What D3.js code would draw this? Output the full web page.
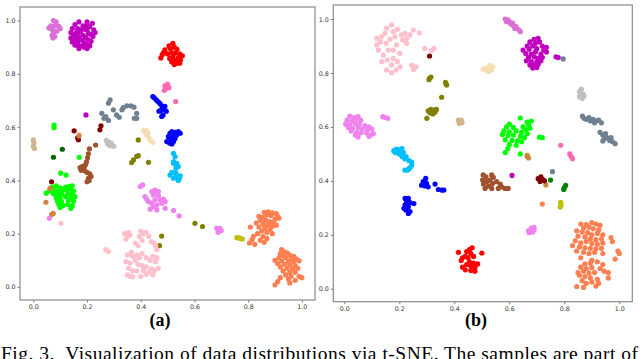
<!DOCTYPE html>
<html><head><meta charset="utf-8">
<script src="https://cdn.jsdelivr.net/npm/d3@7"></script>
<style>html,body{margin:0;padding:0;background:#fff;overflow:hidden}</style>
</head><body>
<svg id="c" width="640" height="359"></svg>
<script>
// ---------- tick labels ----------
const tickValues = [0.0, 0.2, 0.4, 0.6, 0.8, 1.0];
const panelLabels = ["(a)", "(b)"];
const captionText = "Fig. 3.  Visualization of data distributions via t-SNE. The samples are part of";

// ---------- panel (a) clusters ----------
const aOrchid = [[0.075,1.0],[0.085,0.995],[0.065,0.98],[0.08,0.98],[0.095,0.978],[0.058,0.972],[0.1,0.97],[0.072,0.965],[0.088,0.96],[0.075,0.952],[0.07,0.945],[0.08,0.94],[0.073,0.935]];
const aMagenta = [[0.17,0.995],[0.2,0.995],[0.22,0.99],[0.155,0.985],[0.185,0.98],[0.21,0.978],[0.145,0.97],[0.165,0.97],[0.19,0.968],[0.2,0.965],[0.225,0.965],[0.14,0.955],[0.16,0.955],[0.175,0.958],[0.205,0.952],[0.215,0.948],[0.15,0.945],[0.168,0.94],[0.185,0.945],[0.195,0.938],[0.222,0.94],[0.14,0.935],[0.158,0.93],[0.178,0.928],[0.205,0.928],[0.215,0.922],[0.145,0.92],[0.165,0.918],[0.19,0.915],[0.2,0.91],[0.155,0.908],[0.175,0.905],[0.21,0.905],[0.17,0.895],[0.19,0.9],[0.2,0.895],[0.16,0.925],[0.185,0.925],[0.198,0.978],[0.178,0.965],[0.162,0.908],[0.23,0.955],[0.196,0.646]];
const aRed = [[0.475,0.86],[0.48,0.872],[0.485,0.88],[0.49,0.89],[0.505,0.905],[0.52,0.915],[0.51,0.895],[0.525,0.9],[0.535,0.892],[0.5,0.875],[0.515,0.88],[0.53,0.878],[0.545,0.875],[0.555,0.868],[0.52,0.865],[0.54,0.86],[0.508,0.858],[0.53,0.85],[0.548,0.852],[0.515,0.845],[0.535,0.84],[0.525,0.835],[0.545,0.84],[0.52,0.855]];
const aHotpink = [[0.49,0.755],[0.5,0.762],[0.495,0.745],[0.505,0.748],[0.488,0.738],[0.53,0.696]];
const aBlue = [[0.445,0.715],[0.45,0.71],[0.458,0.702],[0.465,0.695],[0.472,0.688],[0.478,0.68],[0.49,0.678],[0.485,0.668],[0.475,0.662],[0.495,0.66],[0.468,0.66],[0.483,0.645],[0.478,0.64],
  [0.497,0.546],[0.503,0.564],[0.509,0.577],[0.516,0.583],[0.528,0.58],[0.54,0.583],[0.547,0.577],[0.534,0.57],[0.522,0.564],[0.512,0.554],[0.522,0.546],[0.507,0.54],[0.516,0.537],[0.528,0.557]];
const aSlate = [[0.286,0.702],[0.28,0.69],[0.255,0.652],[0.27,0.64],[0.28,0.625],[0.298,0.665],[0.31,0.646],[0.32,0.637],[0.335,0.673],[0.348,0.68],[0.363,0.68],[0.375,0.675],[0.385,0.652],[0.385,0.633],[0.376,0.633],[0.33,0.665],[0.263,0.633]];
const aLime = [[0.077,0.608],[0.077,0.598],[0.171,0.487],[0.102,0.427],[0.122,0.42],
  [0.07,0.375],[0.085,0.38],[0.1,0.372],[0.12,0.375],[0.135,0.378],[0.145,0.38],[0.14,0.368],[0.06,0.36],[0.08,0.362],[0.095,0.36],[0.11,0.365],[0.125,0.362],[0.15,0.36],[0.075,0.35],[0.09,0.345],[0.105,0.35],[0.13,0.35],[0.145,0.348],[0.085,0.335],[0.1,0.335],[0.12,0.34],[0.14,0.335],[0.155,0.338],[0.09,0.322],[0.105,0.32],[0.13,0.325],[0.15,0.322],[0.095,0.31],[0.11,0.305],[0.128,0.31],[0.145,0.305],[0.1,0.298],[0.14,0.295],[0.048,0.352]];
const aMaroon = [[0.152,0.586],[0.165,0.56],[0.168,0.553],[0.252,0.605],[0.248,0.59],[0.068,0.395]];
const aPink = [[0.171,0.573],[0.103,0.239],
  [0.27,0.14],[0.28,0.133],[0.34,0.2],[0.35,0.19],[0.355,0.205],[0.36,0.195],[0.345,0.18],[0.4,0.21],[0.41,0.2],[0.42,0.205],[0.395,0.19],[0.43,0.19],[0.405,0.175],[0.38,0.165],[0.39,0.155],[0.44,0.17],[0.45,0.165],[0.455,0.155],[0.46,0.14],[0.35,0.12],[0.365,0.13],[0.37,0.115],[0.385,0.12],[0.395,0.11],[0.405,0.125],[0.42,0.11],[0.435,0.1],[0.445,0.115],[0.46,0.11],[0.455,0.095],[0.345,0.095],[0.36,0.09],[0.38,0.1],[0.39,0.085],[0.405,0.08],[0.42,0.075],[0.44,0.068],[0.45,0.06],[0.43,0.055],[0.41,0.062],[0.355,0.07],[0.37,0.06],[0.385,0.06],[0.35,0.045],[0.36,0.04],[0.37,0.038],[0.4,0.04],[0.42,0.048],[0.445,0.045],[0.465,0.07]];
const aTan = [[0.0,0.552],[0.002,0.54],[0.0,0.528],[0.004,0.52]];
const aSilver = [[0.272,0.55],[0.28,0.545],[0.29,0.54],[0.3,0.528],[0.285,0.53],[0.276,0.538]];
const aWheat = [[0.41,0.587],[0.422,0.587],[0.428,0.577],[0.422,0.571],[0.432,0.558],[0.437,0.55],[0.445,0.542],[0.416,0.58]];
const aOlive = [[0.391,0.552],[0.366,0.467],[0.373,0.477],[0.385,0.49],[0.391,0.493],[0.429,0.468],[0.602,0.239],[0.63,0.227],[0.478,0.191],[0.47,0.155]];
const aSkyblue = [[0.522,0.502],[0.528,0.489],[0.522,0.471],[0.534,0.464],[0.54,0.452],[0.531,0.446],[0.522,0.464],[0.534,0.458],[0.516,0.43],[0.528,0.427],[0.509,0.42],[0.534,0.414],[0.544,0.408],[0.522,0.408],[0.54,0.4],[0.531,0.427],[0.547,0.417]];
const aDarkgreen = [[0.075,0.487],[0.108,0.517]];
const aSienna = [[0.232,0.533],[0.209,0.518],[0.205,0.5],[0.202,0.485],[0.198,0.47],[0.174,0.448],[0.183,0.453],[0.19,0.45],[0.178,0.438],[0.192,0.436],[0.2,0.43],[0.21,0.425],[0.215,0.415],[0.205,0.408],[0.2,0.395],[0.208,0.4],[0.195,0.46]];
const aPeru = [[0.17,0.567],[0.062,0.37],[0.047,0.318],[0.068,0.272],[0.074,0.276]];
const aViolet = [[0.06,0.258],
  [0.398,0.377],[0.407,0.383],[0.416,0.339],[0.429,0.32],[0.441,0.358],[0.453,0.364],[0.46,0.352],[0.447,0.345],[0.466,0.342],[0.472,0.327],[0.484,0.33],[0.491,0.32],[0.478,0.314],[0.453,0.327],[0.441,0.314],[0.447,0.302],[0.46,0.308],[0.435,0.292],[0.46,0.289],[0.491,0.295],[0.522,0.287],[0.543,0.267],[0.422,0.33],[0.466,0.358],
  [0.683,0.22],[0.69,0.212],[0.695,0.22],[0.7,0.212],[0.688,0.205],[0.69,0.218]];
const aYellow = [[0.758,0.185],[0.765,0.184],[0.772,0.182],[0.778,0.18]];
const aCoral = [[0.86,0.28],[0.875,0.282],[0.89,0.278],[0.905,0.275],[0.87,0.27],[0.885,0.268],[0.91,0.265],[0.84,0.265],[0.855,0.262],[0.9,0.255],[0.915,0.258],[0.845,0.25],[0.865,0.25],[0.88,0.245],[0.895,0.242],[0.83,0.24],[0.855,0.236],[0.872,0.232],[0.89,0.228],[0.905,0.232],[0.808,0.225],[0.84,0.225],[0.862,0.22],[0.882,0.215],[0.85,0.21],[0.87,0.205],[0.89,0.2],[0.835,0.2],[0.82,0.19],[0.855,0.19],[0.87,0.182],[0.815,0.178],[0.845,0.175],[0.805,0.165],[0.86,0.168],[0.825,0.16],
  [0.925,0.14],[0.935,0.132],[0.92,0.125],[0.945,0.128],[0.955,0.12],[0.93,0.118],[0.97,0.115],[0.915,0.11],[0.94,0.11],[0.96,0.105],[0.98,0.105],[0.9,0.1],[0.925,0.098],[0.95,0.095],[0.97,0.095],[0.99,0.098],[0.91,0.088],[0.935,0.085],[0.955,0.082],[0.975,0.08],[0.92,0.075],[0.945,0.07],[0.965,0.068],[0.985,0.07],[0.93,0.06],[0.955,0.055],[0.975,0.055],[0.94,0.045],[0.96,0.04],[0.99,0.04],[0.92,0.035],[0.95,0.03],[0.975,0.025],[0.91,0.02],[0.9,0.008],[0.955,0.015],[1.0,0.035]];

// ---------- panel (b) clusters ----------
const bPink = [[0.172,0.978],[0.154,0.966],[0.178,0.953],[0.193,0.962],[0.208,0.941],[0.221,0.947],[0.227,0.928],[0.212,0.922],[0.148,0.947],[0.132,0.916],[0.118,0.904],[0.124,0.885],[0.152,0.91],[0.166,0.925],[0.184,0.934],[0.19,0.904],[0.16,0.885],[0.142,0.866],[0.136,0.842],[0.156,0.848],[0.178,0.854],[0.193,0.842],[0.172,0.83],[0.154,0.811],[0.172,0.801],[0.188,0.811],[0.203,0.823],[0.251,0.959],[0.273,0.949],[0.239,0.941],[0.227,0.91],[0.293,0.891],[0.326,0.891],[0.317,0.883],[0.245,0.829],[0.261,0.823],[0.252,0.813],[0.118,0.928],[0.202,0.873],[0.178,0.885],[0.136,0.935]];
const bMaroon = [[0.31,0.863],[0.705,0.408],[0.715,0.415],[0.722,0.405],[0.712,0.398],[0.728,0.4]];
const bOlive = [[0.31,0.78],[0.315,0.785],[0.308,0.775],[0.368,0.765],[0.372,0.755],[0.37,0.76],[0.354,0.71],[0.305,0.66],[0.315,0.665],[0.325,0.662],[0.335,0.665],[0.312,0.652],[0.322,0.648],[0.33,0.655],[0.3,0.632]];
const bWheat = [[0.505,0.815],[0.515,0.81],[0.52,0.82],[0.53,0.828],[0.535,0.812],[0.525,0.805],[0.54,0.822]];
const bOrchid = [[0.585,1.0],[0.595,0.997],[0.59,0.99],[0.6,0.99],[0.605,0.982],[0.612,0.985],[0.615,0.975],[0.625,0.972],[0.62,0.965],[0.635,0.96],[0.64,0.953]];
const bMagenta = [[0.69,0.925],[0.705,0.928],[0.675,0.915],[0.695,0.91],[0.71,0.915],[0.665,0.9],[0.685,0.9],[0.72,0.9],[0.735,0.895],[0.65,0.885],[0.672,0.888],[0.7,0.89],[0.725,0.885],[0.66,0.872],[0.68,0.87],[0.695,0.878],[0.715,0.87],[0.735,0.878],[0.67,0.858],[0.69,0.86],[0.705,0.855],[0.72,0.858],[0.662,0.845],[0.68,0.842],[0.7,0.842],[0.715,0.845],[0.675,0.83],[0.69,0.828],[0.705,0.832],[0.685,0.818],[0.7,0.82],[0.77,0.86],[0.778,0.857],[0.61,0.42]];
const bSlate = [[0.796,0.852],[0.757,0.434],
  [0.866,0.64],[0.872,0.632],[0.88,0.628],[0.89,0.635],[0.895,0.622],[0.905,0.628],[0.915,0.622],[0.925,0.625],[0.91,0.615],[0.935,0.615],
  [0.93,0.58],[0.94,0.57],[0.95,0.575],[0.955,0.56],[0.945,0.555],[0.965,0.55],[0.975,0.545],[0.985,0.538],[0.97,0.56],[0.94,0.548]];
const bSilver = [[0.855,0.73],[0.862,0.74],[0.855,0.712],[0.865,0.705],[0.872,0.715],[0.868,0.722]];
const bViolet = [[0.02,0.64],[0.035,0.635],[0.05,0.638],[0.01,0.625],[0.028,0.622],[0.045,0.628],[0.06,0.625],[0.005,0.61],[0.02,0.608],[0.04,0.612],[0.055,0.61],[0.075,0.605],[0.09,0.6],[0.015,0.598],[0.03,0.595],[0.05,0.598],[0.065,0.592],[0.085,0.59],[0.1,0.592],[0.025,0.585],[0.045,0.58],[0.06,0.578],[0.08,0.578],[0.04,0.57],[0.095,0.57],[0.105,0.575],[0.05,0.563],[0.09,0.565],[0.14,0.638],[0.15,0.635],[0.158,0.632],
  [0.67,0.215],[0.68,0.225],[0.69,0.228],[0.672,0.208],[0.685,0.21],[0.69,0.218]];
const bTan = [[0.415,0.625],[0.425,0.625],[0.418,0.613],[0.428,0.616]];
const bLime = [[0.64,0.633],[0.665,0.618],[0.68,0.622],[0.67,0.608],[0.6,0.61],[0.59,0.6],[0.615,0.598],[0.65,0.6],[0.66,0.59],[0.675,0.595],[0.58,0.585],[0.6,0.582],[0.625,0.585],[0.645,0.58],[0.665,0.575],[0.575,0.572],[0.595,0.568],[0.615,0.57],[0.64,0.565],[0.655,0.56],[0.72,0.56],[0.71,0.562],[0.585,0.552],[0.61,0.55],[0.63,0.548],[0.645,0.545],[0.6,0.535],[0.625,0.532],[0.595,0.52],[0.585,0.505],[0.64,0.5]];
const bPeru = [[0.665,0.495],[0.67,0.485],[0.665,0.49],[0.733,0.385]];
const bHotpink = [[0.787,0.532],[0.82,0.5],[0.825,0.49],[0.83,0.482]];
const bSkyblue = [[0.18,0.512],[0.19,0.518],[0.2,0.515],[0.21,0.52],[0.185,0.505],[0.2,0.5],[0.215,0.505],[0.21,0.49],[0.22,0.482],[0.225,0.49],[0.235,0.475],[0.245,0.47],[0.245,0.458],[0.24,0.45],[0.23,0.44],[0.22,0.44],[0.235,0.445]];
const bBlue = [[0.296,0.409],[0.287,0.397],[0.281,0.384],[0.299,0.391],[0.305,0.378],[0.293,0.381],[0.33,0.388],[0.342,0.368],[0.354,0.366],[0.362,0.366],
  [0.221,0.335],[0.233,0.335],[0.227,0.323],[0.239,0.319],[0.253,0.316],[0.221,0.311],[0.233,0.304],[0.224,0.292],[0.239,0.286],[0.233,0.279],[0.217,0.298]];
const bSienna = [[0.505,0.422],[0.515,0.415],[0.536,0.422],[0.542,0.413],[0.503,0.403],[0.518,0.397],[0.53,0.403],[0.539,0.39],[0.506,0.388],[0.524,0.381],[0.512,0.372],[0.536,0.372],[0.554,0.397],[0.567,0.388],[0.572,0.378],[0.584,0.372],[0.596,0.372],[0.56,0.372]];
const bGreen = [[0.75,0.403],[0.8,0.375],[0.805,0.383],[0.798,0.368]];
const bYellow = [[0.787,0.32],[0.788,0.31],[0.785,0.303]];
const bRed = [[0.415,0.135],[0.43,0.115],[0.425,0.105],[0.44,0.12],[0.445,0.138],[0.455,0.145],[0.465,0.152],[0.46,0.13],[0.47,0.12],[0.45,0.115],[0.5,0.132],[0.455,0.1],[0.47,0.095],[0.445,0.09],[0.46,0.085],[0.485,0.092],[0.475,0.08],[0.44,0.07],[0.46,0.068],[0.475,0.065],[0.43,0.08]];
const bCoral = [[0.72,0.314],
  [0.86,0.24],[0.88,0.238],[0.9,0.245],[0.915,0.24],[0.93,0.235],[0.87,0.225],[0.89,0.228],[0.905,0.222],[0.925,0.218],[0.845,0.215],[0.865,0.21],[0.885,0.208],[0.9,0.2],[0.92,0.205],[0.94,0.2],[0.97,0.19],[0.85,0.195],[0.875,0.192],[0.895,0.185],[0.915,0.182],[0.935,0.185],[0.975,0.175],[0.84,0.178],[0.86,0.17],[0.88,0.175],[0.9,0.168],[0.92,0.165],[0.94,0.17],[0.83,0.16],[0.855,0.155],[0.875,0.152],[0.895,0.15],[0.915,0.148],[0.935,0.15],[0.995,0.14],[1.0,0.13],[0.845,0.14],[0.87,0.135],[0.89,0.13],[0.91,0.135],[0.94,0.13],[0.86,0.115],[0.9,0.105],[0.92,0.1],[0.985,0.11],[0.875,0.092],[0.895,0.095],[0.94,0.09],[0.86,0.08],[0.88,0.075],[0.9,0.078],[0.93,0.075],[0.945,0.065],[0.87,0.065],[0.89,0.058],[0.91,0.06],[0.96,0.04],[0.855,0.05],[0.875,0.045],[0.895,0.04],[0.92,0.035],[0.865,0.03],[0.88,0.02],[0.9,0.025],[0.845,0.008],[0.87,0.005],[0.915,0.01],[0.925,0.02],[0.85,0.06],[0.96,0.06]];

// ---------- drawing ----------
const svg = d3.select("#c");
const R = 2.6;

const panels = [
  { label: panelLabels[0], box: [20, 7, 315, 300], xd: [-0.0496, 1.049], yd: [-0.049, 1.051], labelX: 160,
    series: [[aTan,"#D2B48C"],[aOrchid,"#DA70D6"],[aMagenta,"#BF00BF"],[aRed,"#FF0000"],[aHotpink,"#FF69B4"],[aBlue,"#0000FF"],[aSlate,"#708090"],[aSilver,"#C0C0C0"],[aWheat,"#F5DEB3"],[aOlive,"#808000"],[aSkyblue,"#00BFFF"],[aDarkgreen,"#006400"],[aSienna,"#A0522D"],[aLime,"#00FF00"],[aMaroon,"#800000"],[aPink,"#FFC0CB"],[aPeru,"#CD853F"],[aViolet,"#EE82EE"],[aYellow,"#BFBF00"],[aCoral,"#FF7F50"]] },
  { label: panelLabels[1], box: [333.3, 5, 632.3, 301.7], xd: [-0.04, 1.0473], yd: [-0.048, 1.052], labelX: 476,
    series: [[bPink,"#FFC0CB"],[bOlive,"#808000"],[bWheat,"#F5DEB3"],[bOrchid,"#DA70D6"],[bMagenta,"#BF00BF"],[bSlate,"#708090"],[bSilver,"#C0C0C0"],[bViolet,"#EE82EE"],[bTan,"#D2B48C"],[bLime,"#00FF00"],[bPeru,"#CD853F"],[bHotpink,"#FF69B4"],[bSkyblue,"#00BFFF"],[bBlue,"#0000FF"],[bSienna,"#A0522D"],[bMaroon,"#800000"],[bGreen,"#008000"],[bYellow,"#BFBF00"],[bRed,"#FF0000"],[bCoral,"#FF7F50"]] }
];

panels.forEach(p => {
  const [x0, y0, x1, y1] = p.box;
  const x = d3.scaleLinear().domain(p.xd).range([x0, x1]);
  const y = d3.scaleLinear().domain(p.yd).range([y1, y0]);
  const g = svg.append("g");

  g.append("rect").attr("x", x0).attr("y", y0).attr("width", x1 - x0).attr("height", y1 - y0)
    .attr("fill", "#fff");

  p.series.forEach(([pts, col]) => {
    g.append("g").selectAll("circle").data(pts).join("circle")
      .attr("cx", d => x(d[0])).attr("cy", d => y(d[1])).attr("r", R).attr("fill", col);
  });

  const xa = d3.axisBottom(x).tickValues(tickValues).tickFormat(d3.format(".1f")).tickSize(2.5).tickPadding(2.5);
  const ya = d3.axisLeft(y).tickValues(tickValues).tickFormat(d3.format(".1f")).tickSize(2.5).tickPadding(2);
  const gx = g.append("g").attr("transform", `translate(0,${y1})`).call(xa);
  const gy = g.append("g").attr("transform", `translate(${x0},0)`).call(ya);
  [gx, gy].forEach(a => {
    a.select(".domain").remove();
    a.selectAll("line").attr("stroke", "#444").attr("stroke-width", 0.7);
    a.selectAll("text").attr("font-family", "DejaVu Sans, sans-serif").attr("font-size", 6.3).attr("fill", "#333");
  });

  g.append("rect").attr("x", x0).attr("y", y0).attr("width", x1 - x0).attr("height", y1 - y0)
    .attr("fill", "none").attr("stroke", "#8a8a8a").attr("stroke-width", 1.2);

  svg.append("text").attr("x", p.labelX).attr("y", 326).attr("text-anchor", "middle")
    .attr("font-family", "Liberation Serif, Times New Roman, serif").attr("font-weight", "bold")
    .attr("font-size", 18).text(p.label);
});

svg.append("text").attr("x", 1).attr("y", 359.5)
  .attr("font-family", "Liberation Serif, Times New Roman, serif").attr("font-size", 19.5)
  .attr("textLength", 637).attr("lengthAdjust", "spacing")
  .attr("xml:space", "preserve").style("white-space", "pre")
  .text(captionText);
</script>
</body></html>
